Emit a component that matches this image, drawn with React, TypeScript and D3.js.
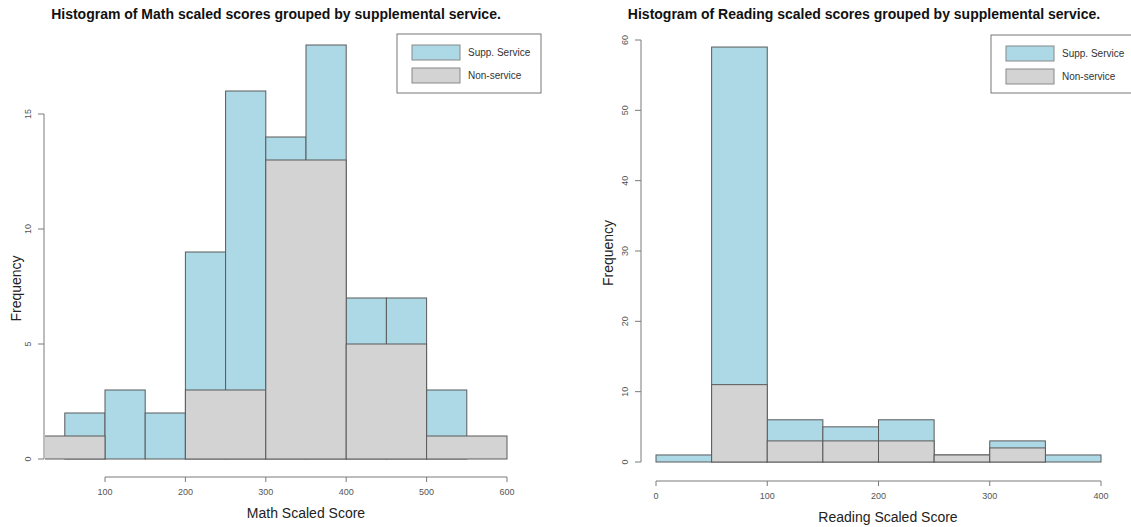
import React from "react";
import * as d3 from "d3";

// Math histogram: supplemental-service bins (width 50) and non-service bins (width 100)
const mathSuppBreaks = [50, 100, 150, 200, 250, 300, 350, 400, 450, 500, 550];
const mathSuppCounts = [2, 3, 2, 9, 16, 14, 18, 7, 7, 3];
const mathNonBreaks = [0, 100, 200, 300, 400, 500, 600];
const mathNonCounts = [1, 0, 3, 13, 5, 1];
const mathXTicks = [100, 200, 300, 400, 500, 600];
const mathYTicks = [0, 5, 10, 15];

// Reading histogram: both groups binned by 50
const readBreaks = [0, 50, 100, 150, 200, 250, 300, 350, 400];
const readSuppCounts = [1, 59, 6, 5, 6, 1, 3, 1];
const readNonCounts = [0, 11, 3, 3, 3, 1, 2, 0];
const readXTicks = [0, 100, 200, 300, 400];
const readYTicks = [0, 10, 20, 30, 40, 50, 60];

const legendLabels = ["Supp. Service", "Non-service"];
const SUPP = "#ADD8E6";
const NON = "#D3D3D3";
const EDGE = "#5a5a5a";
const AXIS = "#7a7a7a";
const FONT = "'Liberation Sans', Arial, sans-serif";

type Panel = {
  id: string;
  title: string;
  xTitle: string;
  titleX: number;
  xTitleX: number;
  x: d3.ScaleLinear<number, number>;
  y: d3.ScaleLinear<number, number>;
  clip: [number, number, number, number];
  suppBreaks: number[];
  suppCounts: number[];
  nonBreaks: number[];
  nonCounts: number[];
  xTicks: number[];
  yTicks: number[];
  yAxisX: number;
  xAxisY: number;
  yTitleX: number;
  legend: [number, number, number, number];
};

const panels: Panel[] = [
  {
    id: "math",
    title: "Histogram of Math scaled scores grouped by supplemental service.",
    xTitle: "Math Scaled Score",
    titleX: 276,
    xTitleX: 306,
    x: d3.scaleLinear().domain([100, 600]).range([105, 507]),
    y: d3.scaleLinear().domain([0, 15]).range([459, 114]),
    clip: [45, 20, 520, 460],
    suppBreaks: mathSuppBreaks,
    suppCounts: mathSuppCounts,
    nonBreaks: mathNonBreaks,
    nonCounts: mathNonCounts,
    xTicks: mathXTicks,
    yTicks: mathYTicks,
    yAxisX: 44,
    xAxisY: 477,
    yTitleX: 16,
    legend: [397, 34, 144, 59],
  },
  {
    id: "read",
    title: "Histogram of Reading scaled scores grouped by supplemental service.",
    xTitle: "Reading Scaled Score",
    titleX: 864,
    xTitleX: 888,
    x: d3.scaleLinear().domain([0, 400]).range([656, 1101]),
    y: d3.scaleLinear().domain([0, 60]).range([462, 40]),
    clip: [642, 20, 480, 460],
    suppBreaks: readBreaks,
    suppCounts: readSuppCounts,
    nonBreaks: readBreaks,
    nonCounts: readNonCounts,
    xTicks: readXTicks,
    yTicks: readYTicks,
    yAxisX: 641,
    xAxisY: 481,
    yTitleX: 608,
    legend: [991, 35, 144, 58],
  },
];

function Bars({ p, breaks, counts, fill }: { p: Panel; breaks: number[]; counts: number[]; fill: string }) {
  return (
    <g>
      {counts.map((c, i) =>
        c > 0 ? (
          <rect
            key={i}
            x={p.x(breaks[i])}
            y={p.y(c)}
            width={p.x(breaks[i + 1]) - p.x(breaks[i])}
            height={p.y(0) - p.y(c)}
            fill={fill}
            stroke={EDGE}
            strokeWidth={1}
          />
        ) : null
      )}
    </g>
  );
}

function PanelView({ p }: { p: Panel }) {
  const [lx, ly, lw, lh] = p.legend;
  const xt = p.xTicks;
  const yt = p.yTicks;
  return (
    <g>
      <text x={p.titleX} y={19} textAnchor="middle" fontFamily={FONT} fontWeight="bold" fontSize={14} fill="#111">
        {p.title}
      </text>
      <defs>
        <clipPath id={`clip-${p.id}`}>
          <rect x={p.clip[0]} y={p.clip[1]} width={p.clip[2]} height={p.clip[3]} />
        </clipPath>
      </defs>
      <g clipPath={`url(#clip-${p.id})`}>
        <Bars p={p} breaks={p.suppBreaks} counts={p.suppCounts} fill={SUPP} />
        <Bars p={p} breaks={p.nonBreaks} counts={p.nonCounts} fill={NON} />
      </g>
      {/* y axis */}
      <line x1={p.yAxisX} x2={p.yAxisX} y1={p.y(yt[0])} y2={p.y(yt[yt.length - 1])} stroke={AXIS} />
      {yt.map((t) => (
        <g key={t}>
          <line x1={p.yAxisX - 6} x2={p.yAxisX} y1={p.y(t)} y2={p.y(t)} stroke={AXIS} />
          <text
            transform={`translate(${p.yAxisX - 13},${p.y(t)}) rotate(-90)`}
            textAnchor="middle"
            fontFamily={FONT}
            fontSize={9}
            fill="#555"
          >
            {t}
          </text>
        </g>
      ))}
      <text
        transform={`translate(${p.yTitleX + 5},${(p.y(yt[0]) + p.y(yt[yt.length - 1])) / 2 + 2}) rotate(-90)`}
        textAnchor="middle"
        fontFamily={FONT}
        fontSize={14}
        fill="#222"
      >
        Frequency
      </text>
      {/* x axis */}
      <line x1={p.x(xt[0])} x2={p.x(xt[xt.length - 1])} y1={p.xAxisY} y2={p.xAxisY} stroke={AXIS} />
      {xt.map((t) => (
        <g key={t}>
          <line x1={p.x(t)} x2={p.x(t)} y1={p.xAxisY} y2={p.xAxisY + 5} stroke={AXIS} />
          <text x={p.x(t)} y={p.xAxisY + 18} textAnchor="middle" fontFamily={FONT} fontSize={9} fill="#555">
            {t}
          </text>
        </g>
      ))}
      <text x={p.xTitleX} y={p.xAxisY + 41} textAnchor="middle" fontFamily={FONT} fontSize={14} fill="#222">
        {p.xTitle}
      </text>
      {/* legend */}
      <rect x={lx} y={ly} width={lw} height={lh} fill="#fff" stroke="#777" />
      {legendLabels.map((lab, i) => (
        <g key={lab}>
          <rect x={lx + 15} y={ly + 11 + i * 23} width={48} height={15} fill={i === 0 ? SUPP : NON} stroke="#888" />
          <text x={lx + 71} y={ly + 22 + i * 23} fontFamily={FONT} fontSize={10} fill="#333">
            {lab}
          </text>
        </g>
      ))}
    </g>
  );
}

export default function App() {
  return (
    <svg
      width={1131}
      height={527}
      style={{ position: "absolute", left: 0, top: 0, background: "#fff" }}
    >
      <rect width={1131} height={527} fill="#fff" />
      {panels.map((p) => (
        <PanelView key={p.id} p={p} />
      ))}
    </svg>
  );
}
